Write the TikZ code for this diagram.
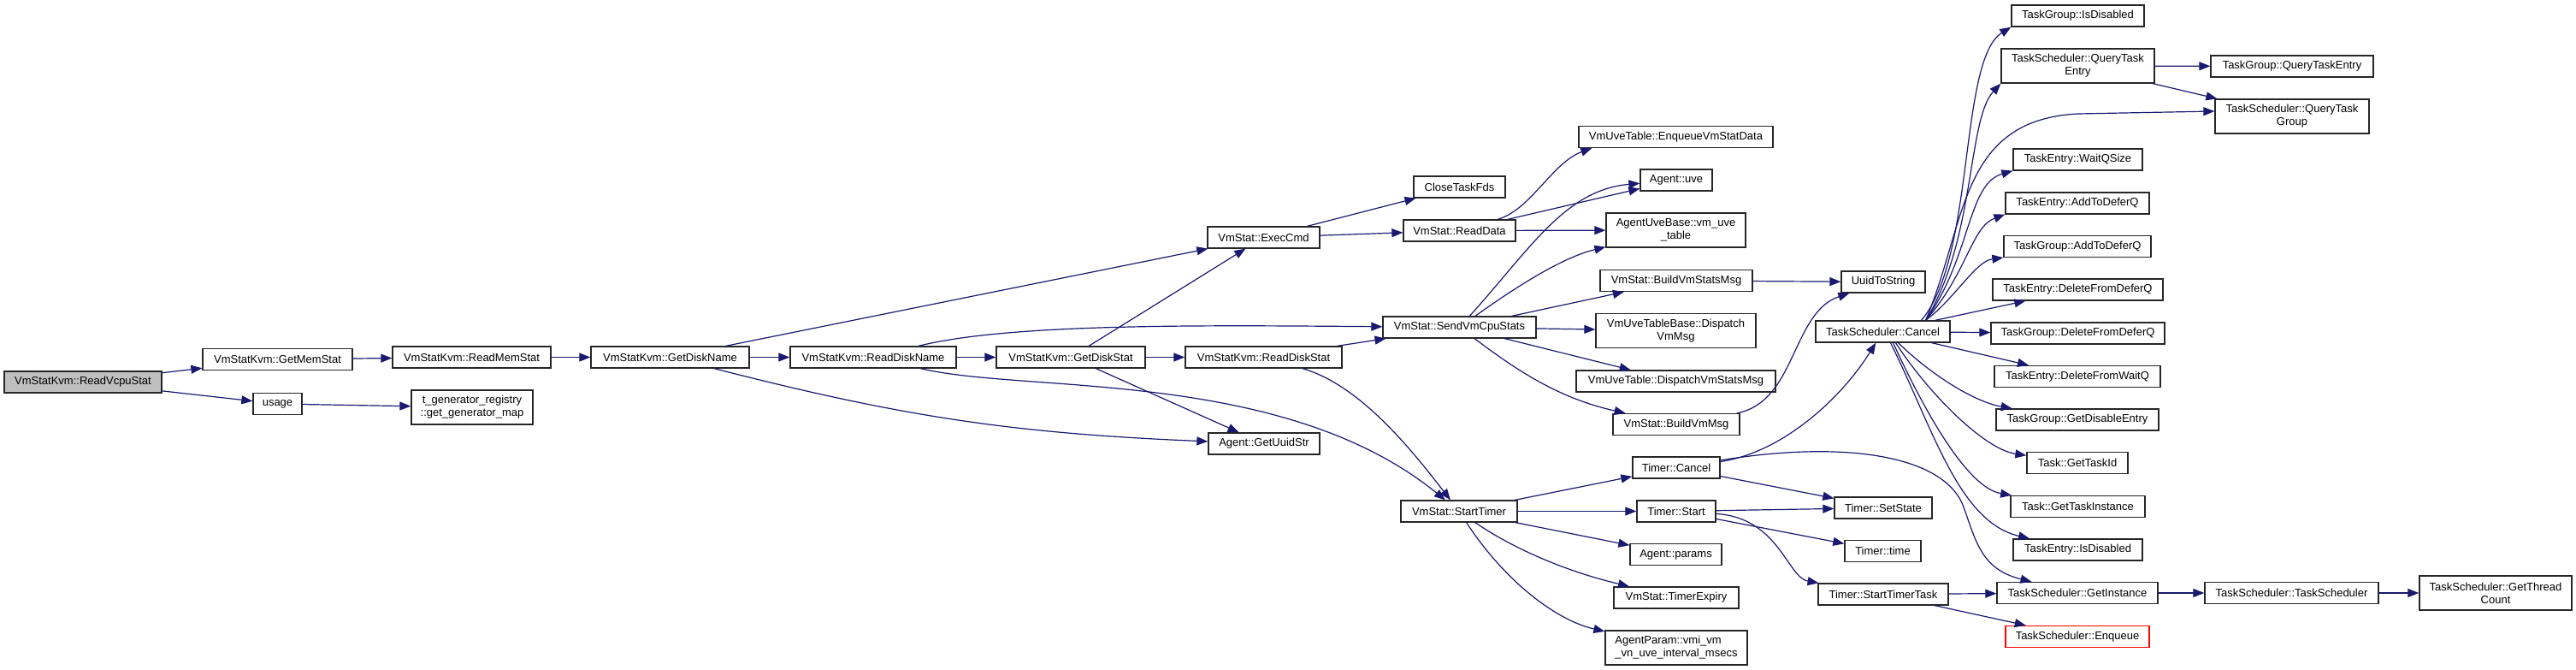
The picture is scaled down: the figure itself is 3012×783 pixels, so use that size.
\documentclass[tikz,border=0pt]{standalone}
\usepackage{fontspec}
\setmainfont{Liberation Sans}
\usetikzlibrary{arrows.meta}
\definecolor{edgeblue}{HTML}{191970}
\definecolor{rootgray}{HTML}{BFBFBF}

\begin{document}
\begin{tikzpicture}[x=1pt, y=-1pt,
  fn/.style={draw=black!85, line width=1.3pt, inner sep=0pt, minimum height=25pt,
    align=center, font=\fontsize{13}{15}\selectfont},
  fn2/.style={fn, minimum height=40pt},
  root/.style={fn, fill=rootgray},
  missing/.style={fn, draw=red},
  link/.style={draw=edgeblue, line width=1.2pt, -{Triangle[length=13pt,width=10pt]}}]
  \useasboundingbox (0,0) rectangle (3012,783);

  % Nodes
  \node[root, minimum width=184pt] (RV) at (97,446.5) {VmStatKvm::ReadVcpuStat};
  \node[fn, minimum width=175pt] (GMS) at (324.5,420) {VmStatKvm::GetMemStat};
  \node[fn, minimum width=57pt] (USG) at (324.5,472) {usage};
  \node[fn, minimum width=185pt] (RMS) at (551.5,417.5) {VmStatKvm::ReadMemStat};
  \node[fn2, minimum width=142pt] (TGR) at (552,476) {t\_generator\_registry\\::get\_generator\_map};
  \node[fn, minimum width=185pt] (GDN) at (783.5,417.5) {VmStatKvm::GetDiskName};
  \node[fn, minimum width=194pt] (RDN) at (1021,417.5) {VmStatKvm::ReadDiskName};
  \node[fn, minimum width=174pt] (GDS) at (1252,417.5) {VmStatKvm::GetDiskStat};
  \node[fn, minimum width=183pt] (RDS) at (1477.5,417.5) {VmStatKvm::ReadDiskStat};
  \node[fn, minimum width=130pt] (GUS) at (1478,518.5) {Agent::GetUuidStr};
  \node[fn, minimum width=131pt] (EC) at (1477.5,277.5) {VmStat::ExecCmd};
  \node[fn, minimum width=107pt] (CTF) at (1706.5,218.5) {CloseTaskFds};
  \node[fn, minimum width=131pt] (RD) at (1706.5,269.5) {VmStat::ReadData};
  \node[fn, minimum width=179pt] (SVCS) at (1706.5,382.5) {VmStat::SendVmCpuStats};
  \node[fn, minimum width=136pt] (ST) at (1706,597.5) {VmStat::StartTimer};
  \node[fn, minimum width=227pt] (EVSD) at (1959.5,160) {VmUveTable::EnqueueVmStatData};
  \node[fn, minimum width=84pt] (AU) at (1960,210.5) {Agent::uve};
  \node[fn2, minimum width=163pt] (VUT) at (1959.5,269) {AgentUveBase::vm\_uve\\\_table};
  \node[fn, minimum width=178pt] (BVSM) at (1960,328) {VmStat::BuildVmStatsMsg};
  \node[fn2, minimum width=187pt] (DVM) at (1959.5,386.5) {VmUveTableBase::Dispatch\\VmMsg};
  \node[fn, minimum width=233pt] (DVSM) at (1959.5,445.5) {VmUveTable::DispatchVmStatsMsg};
  \node[fn, minimum width=148pt] (BVM) at (1960,496) {VmStat::BuildVmMsg};
  \node[fn, minimum width=102pt] (TC) at (1960,546.5) {Timer::Cancel};
  \node[fn, minimum width=92pt] (TS) at (1960,597.5) {Timer::Start};
  \node[fn, minimum width=107pt] (AP) at (1959.5,648) {Agent::params};
  \node[fn, minimum width=146pt] (TE) at (1960,698.5) {VmStat::TimerExpiry};
  \node[fn2, align=left, minimum width=166pt] (APR) at (1960,757) {AgentParam::vmi\_vm\\\_vn\_uve\_interval\_msecs};
  \node[fn, minimum width=98pt] (UTS) at (2202,329.5) {UuidToString};
  \node[fn, minimum width=157pt] (TSC) at (2201.5,387.5) {TaskScheduler::Cancel};
  \node[fn, minimum width=114pt] (SS) at (2202,593.5) {Timer::SetState};
  \node[fn, minimum width=89pt] (TT) at (2201.5,644) {Timer::time};
  \node[fn, minimum width=152pt] (STT) at (2202,694.5) {Timer::StartTimerTask};
  \node[fn, minimum width=155pt] (TGID) at (2429.5,18.5) {TaskGroup::IsDisabled};
  \node[fn2, minimum width=179pt] (QTE) at (2429.5,77) {TaskScheduler::QueryTask\\Entry};
  \node[fn, minimum width=151pt] (WQ) at (2429.5,186.5) {TaskEntry::WaitQSize};
  \node[fn, minimum width=168pt] (TEAD) at (2429,237.5) {TaskEntry::AddToDeferQ};
  \node[fn, minimum width=172pt] (TGAD) at (2429,288) {TaskGroup::AddToDeferQ};
  \node[fn, minimum width=199pt] (TEDD) at (2429.5,338.5) {TaskEntry::DeleteFromDeferQ};
  \node[fn, minimum width=203pt] (TGDD) at (2429.5,389.5) {TaskGroup::DeleteFromDeferQ};
  \node[fn, minimum width=194pt] (DFWQ) at (2429,440) {TaskEntry::DeleteFromWaitQ};
  \node[fn, minimum width=190pt] (GDE) at (2429,490.5) {TaskGroup::GetDisableEntry};
  \node[fn, minimum width=118pt] (GTI) at (2429,541) {Task::GetTaskId};
  \node[fn, minimum width=157pt] (GTIn) at (2429.5,592) {Task::GetTaskInstance};
  \node[fn, minimum width=151pt] (TEID) at (2429.5,642.5) {TaskEntry::IsDisabled};
  \node[fn, minimum width=188pt] (GI) at (2429,693) {TaskScheduler::GetInstance};
  \node[missing, minimum width=168pt] (ENQ) at (2429,744) {TaskScheduler::Enqueue};
  \node[fn, minimum width=190pt] (TGQ) at (2680,77.5) {TaskGroup::QueryTaskEntry};
  \node[fn2, minimum width=180pt] (QTG) at (2680,136) {TaskScheduler::QueryTask\\Group};
  \node[fn, minimum width=203pt] (TST) at (2679.5,693) {TaskScheduler::TaskScheduler};
  \node[fn2, minimum width=178pt] (GTC) at (2918,693) {TaskScheduler::GetThread\\Count};

  % Edges
  \draw[link] (RV) -- (GMS);
  \draw[link] (RV) -- (USG);
  \draw[link] (GMS) -- (RMS);
  \draw[link] (USG) -- (TGR);
  \draw[link] (RMS) -- (GDN);
  \draw[link] (GDN) -- (EC);
  \draw[link] (GDN) -- (RDN);
  \draw[link] (GDN) to[bend right=6] (GUS);
  \draw[link] (RDN) -- (GDS);
  \draw[link] (RDN) .. controls (1180,378) and (1400,380) .. (SVCS);
  \draw[link] (RDN) .. controls (1200,460) and (1500,430) .. (ST);
  \draw[link] (GDS) -- (EC);
  \draw[link] (GDS) -- (RDS);
  \draw[link] (GDS) -- (GUS);
  \draw[link] (RDS) -- (SVCS);
  \draw[link] (RDS) .. controls (1590,450) and (1650,525) .. (ST);
  \draw[link] (EC) -- (CTF);
  \draw[link] (EC) -- (RD);
  \draw[link] (RD) .. controls (1790,245) and (1815,190) .. ([xshift=16pt]EVSD.south west);
  \draw[link] (RD) -- (AU);
  \draw[link] (RD) -- (VUT);
  \draw[link] (SVCS) .. controls (1790,290) and (1830,222) .. (AU);
  \draw[link] (SVCS) .. controls (1780,330) and (1830,300) .. (VUT);
  \draw[link] (SVCS) -- (BVSM);
  \draw[link] (SVCS) -- (DVM);
  \draw[link] (SVCS) -- (DVSM);
  \draw[link] (SVCS) .. controls (1770,430) and (1820,465) .. (BVM);
  \draw[link] (ST) -- (TC);
  \draw[link] (ST) -- (TS);
  \draw[link] (ST) -- (AP);
  \draw[link] (ST) .. controls (1760,635) and (1820,665) .. (TE);
  \draw[link] (ST) .. controls (1760,680) and (1820,725) .. (APR);
  \draw[link] (BVSM) -- (UTS);
  \draw[link] (BVM) .. controls (2100,470) and (2095,365) .. (UTS);
  \draw[link] (TC) .. controls (2080,530) and (2150,470) .. (TSC);
  \draw[link] (TC) .. controls (2150,515) and (2270,530) .. (2295,590)
    .. controls (2310,630) and (2315,665) .. (GI);
  \draw[link] (TC) -- (SS);
  \draw[link] (TS) -- (SS);
  \draw[link] (TS) -- (TT);
  \draw[link] (TS) .. controls (2080,605) and (2090,675) .. (STT);
  \draw[link] (STT) -- (GI);
  \draw[link] (STT) -- (ENQ);
  \draw[link] (GI) -- (TST);
  \draw[link] (TST) -- (GTC);
  \draw[link] (QTE) -- (TGQ);
  \draw[link] (QTE) -- (QTG);
  \draw[link] ([xshift=45pt]TSC.north) .. controls (2310,300) and (2290,70) .. (TGID.south west);
  \draw[link] ([xshift=50pt]TSC.north) .. controls (2310,280) and (2300,140) .. (QTE.south west);
  \draw[link] ([xshift=50pt]TSC.north) .. controls (2300,260) and (2290,140) .. (2430,133)
    -- ([yshift=6pt]QTG.west);
  \draw[link] ([xshift=50pt]TSC.north) .. controls (2305,300) and (2300,215) .. (WQ.south west);
  \draw[link] ([xshift=50pt]TSC.north) .. controls (2300,320) and (2305,265) .. (TEAD.south west);
  \draw[link] ([xshift=50pt]TSC.north) .. controls (2285,350) and (2310,305) .. (TGAD.south west);
  \draw[link] (TSC) -- (TEDD);
  \draw[link] (TSC) -- (TGDD);
  \draw[link] (TSC) -- (DFWQ);
  \draw[link] ([xshift=18pt]TSC.south) .. controls (2260,440) and (2310,470) .. (GDE);
  \draw[link] ([xshift=15pt]TSC.south) .. controls (2255,460) and (2320,525) .. (GTI);
  \draw[link] ([xshift=12pt]TSC.south) .. controls (2250,480) and (2300,570) .. (GTIn);
  \draw[link] ([xshift=9pt]TSC.south) .. controls (2260,500) and (2290,610) .. (TEID);
\end{tikzpicture}
\end{document}
